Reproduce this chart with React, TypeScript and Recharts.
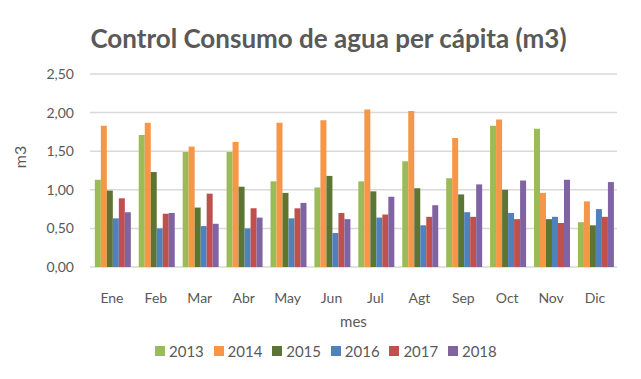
import { Bar, BarChart, CartesianGrid, Legend, XAxis, YAxis } from "recharts";

const months = ["Ene", "Feb", "Mar", "Abr", "May", "Jun", "Jul", "Agt", "Sep", "Oct", "Nov", "Dic"];
const v2013 = [1.13, 1.71, 1.49, 1.49, 1.11, 1.03, 1.11, 1.37, 1.15, 1.83, 1.79, 0.58];
const v2014 = [1.83, 1.87, 1.56, 1.62, 1.87, 1.9, 2.04, 2.02, 1.67, 1.91, 0.96, 0.85];
const v2015 = [0.99, 1.23, 0.77, 1.04, 0.96, 1.18, 0.98, 1.02, 0.94, 1.0, 0.62, 0.54];
const v2016 = [0.63, 0.5, 0.53, 0.5, 0.63, 0.44, 0.64, 0.54, 0.71, 0.7, 0.65, 0.75];
const v2017 = [0.89, 0.69, 0.95, 0.76, 0.76, 0.7, 0.68, 0.65, 0.65, 0.62, 0.57, 0.65];
const v2018 = [0.71, 0.7, 0.56, 0.64, 0.83, 0.62, 0.91, 0.8, 1.07, 1.12, 1.13, 1.1];
const yTicks = [0, 0.5, 1, 1.5, 2, 2.5];

const years = ["2013", "2014", "2015", "2016", "2017", "2018"];
const colors = ["#9bbb59", "#f79646", "#5d7532", "#4f81bd", "#c0504d", "#8064a2"];
const seriesValues = [v2013, v2014, v2015, v2016, v2017, v2018];

const data = months.map((m, i) => {
  const row: Record<string, string | number> = { mes: m };
  years.forEach((y, k) => {
    row[y] = seriesValues[k][i];
  });
  return row;
});

const font = "Lato, 'Liberation Sans', sans-serif";
const gray = "#595959";

const fmt = (v: number) => v.toFixed(2).replace(".", ",");

// legend laid out like the Excel one: fixed step per item
const renderLegend = () => (
  <div style={{ display: "flex", marginLeft: 155, fontFamily: font, fontSize: 15, color: gray, lineHeight: "18px" }}>
    {years.map((y, k) => (
      <div key={y} style={{ display: "flex", alignItems: "center", width: 58.6 }}>
        <span style={{ display: "inline-block", width: 10, height: 10, background: colors[k], marginRight: 4 }} />
        <span>{y}</span>
      </div>
    ))}
  </div>
);

export default function App() {
  return (
    <div style={{ position: "absolute", left: 0, top: 0, width: 641, height: 379, background: "#fff", fontFamily: font }}>
      <div
        style={{
          position: "absolute",
          left: 0,
          width: 657,
          top: 22,
          textAlign: "center",
          fontSize: 26,
          fontWeight: 700,
          color: gray,
        }}
      >
        Control Consumo de agua per cápita (m3)
      </div>
      <BarChart
        width={641}
        height={379}
        data={data}
        margin={{ top: 74, right: 24, bottom: 0, left: 0 }}
        barCategoryGap="11%"
        barGap={0}
      >
        <CartesianGrid vertical={false} stroke="#d9d9d9" strokeWidth={1.5} />
        <XAxis
          dataKey="mes"
          axisLine={false}
          tickLine={false}
          tickMargin={20}
          height={75}
          tick={{ fontSize: 14, fill: gray, fontFamily: font }}
          label={{ value: "mes", position: "insideBottom", offset: 15, fontSize: 15, fill: gray, fontFamily: font }}
        />
        <YAxis
          width={90}
          domain={[0, 2.5]}
          ticks={yTicks}
          tickFormatter={fmt}
          axisLine={false}
          tickLine={false}
          tickMargin={10}
          tick={{ fontSize: 14, fill: gray, fontFamily: font }}
          label={({ viewBox }: any) => (
            <text
              x={(viewBox?.x ?? 0) + 19}
              y={157}
              transform={`rotate(-90, ${(viewBox?.x ?? 0) + 19}, 157)`}
              textAnchor="middle"
              dominantBaseline="central"
              fontSize={16}
              fill={gray}
              fontFamily={font}
            >
              m3
            </text>
          )}
        />
        <Legend verticalAlign="bottom" wrapperStyle={{ height: 37 }} content={renderLegend} />
        {years.map((y, k) => (
          <Bar key={y} dataKey={y} fill={colors[k]} isAnimationActive={false} />
        ))}
      </BarChart>
    </div>
  );
}
